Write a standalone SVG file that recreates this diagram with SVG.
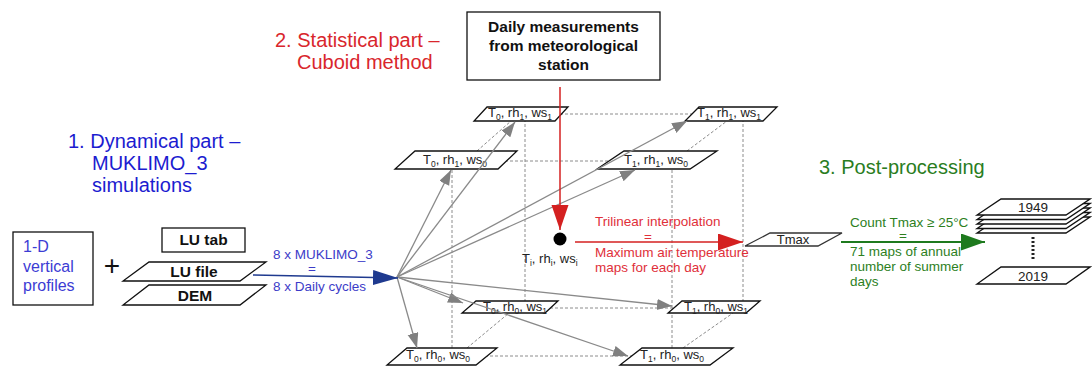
<svg xmlns="http://www.w3.org/2000/svg" width="1092" height="367" viewBox="0 0 1092 367">
<style>
text{font-family:"Liberation Sans",Arial,sans-serif}
.plate{fill:#fff;stroke:#111;stroke-width:1.3}
.box{fill:#fff;stroke:#111;stroke-width:1.3}
.pt{font-size:13px;fill:#222;text-anchor:middle}
.sb{font-size:8.5px}
.bold{font-weight:bold;fill:#111;text-anchor:middle}
.dash{stroke:#8c8c8c;stroke-width:1;stroke-dasharray:3 2;fill:none}
.garr{stroke:#8a8a8a;stroke-width:1.3;fill:none;marker-end:url(#mg)}
.lbl{font-size:13.5px}
</style>
<defs>
<marker id="mg" markerUnits="userSpaceOnUse" markerWidth="16" markerHeight="12" refX="15" refY="5.5" orient="auto"><path d="M0,0 L15,5.5 L0,11 z" fill="#808080"/></marker>
<marker id="mb" markerUnits="userSpaceOnUse" markerWidth="26" markerHeight="16" refX="25" refY="7.5" orient="auto"><path d="M0,0 L25,7.5 L0,15 z" fill="#1f3a8f"/></marker>
<marker id="mr" markerUnits="userSpaceOnUse" markerWidth="26" markerHeight="18" refX="25" refY="8.5" orient="auto"><path d="M0,0 L25,8.5 L0,17 z" fill="#d42020"/></marker>
<marker id="mgr" markerUnits="userSpaceOnUse" markerWidth="25" markerHeight="18" refX="24" refY="8.5" orient="auto"><path d="M0,0 L24,8.5 L0,17 z" fill="#1e7a1e"/></marker>
</defs>

<g id="titles">
<text x="68" y="148" font-size="20" fill="#1c1cd0">1. Dynamical part –</text>
<text x="92" y="170" font-size="20" fill="#1c1cd0">MUKLIMO_3</text>
<text x="92" y="192" font-size="20" fill="#1c1cd0">simulations</text>
<text x="275" y="47" font-size="20" fill="#d9262c">2. Statistical part –</text>
<text x="297" y="69" font-size="20" fill="#d9262c">Cuboid method</text>
<text x="819" y="174" font-size="20" fill="#2a7d1e">3. Post-processing</text>
</g>

<g id="connectors">
<g id="cube-edges">
<line class="dash" x1="452" y1="160" x2="452" y2="356"/>
<line class="dash" x1="525" y1="114" x2="525" y2="307"/>
<line class="dash" x1="672" y1="160" x2="672" y2="356"/>
<line class="dash" x1="743" y1="114" x2="743" y2="307"/>
<line class="dash" x1="530" y1="114" x2="730" y2="114"/>
<line class="dash" x1="460" y1="161" x2="660" y2="161"/>
<line class="dash" x1="520" y1="308" x2="710" y2="308"/>
<line class="dash" x1="445" y1="356" x2="670" y2="356"/>
<line class="dash" x1="477" y1="151" x2="511" y2="121"/>
<line class="dash" x1="687" y1="151" x2="727" y2="121"/>
<line class="dash" x1="467" y1="348" x2="509" y2="313"/>
<line class="dash" x1="683" y1="348" x2="733" y2="313"/>
</g>
</g>

<g id="node-left-profiles">
<rect class="box" x="13" y="232" width="80" height="73"/>
<text x="23" y="252" font-size="16" fill="#3c3cd4">1-D</text>
<text x="23" y="272" font-size="16" fill="#3c3cd4">vertical</text>
<text x="23" y="291" font-size="16" fill="#3c3cd4">profiles</text>
</g>
<g id="plus"><text x="112" y="275" font-size="28" text-anchor="middle" fill="#111">+</text></g>
<g id="node-lutab">
<rect class="box" x="162" y="228" width="83" height="24"/>
<text class="bold" x="203.5" y="245" font-size="15.5">LU tab</text>
</g>
<g id="node-lufile">
<polygon class="plate" points="123,281 240,281 266,262 149,262"/>
<text class="bold" x="194" y="277" font-size="15.5">LU file</text>
</g>
<g id="node-dem">
<polygon class="plate" points="123,305 240,305 266,285 149,285"/>
<text class="bold" x="195" y="301" font-size="15.5">DEM</text>
</g>

<g id="node-station">
<rect class="box" x="467" y="12" width="193" height="68"/>
<text class="bold" x="563.5" y="32" font-size="15.5">Daily measurements</text>
<text class="bold" x="563.5" y="51" font-size="15.5">from meteorological</text>
<text class="bold" x="563.5" y="70" font-size="15.5">station</text>
</g>

<g id="node-T0rh1ws1">
<polygon class="plate" points="474,121 555,121 568,107 487,107"/>
<text class="pt" x="520" y="117">T<tspan class="sb" dy="3">0</tspan><tspan dy="-3">, rh</tspan><tspan class="sb" dy="3">1</tspan><tspan dy="-3">, ws</tspan><tspan class="sb" dy="3">1</tspan></text>
</g>
<g id="node-T1rh1ws1">
<polygon class="plate" points="685,121 763,121 777,107 699,107"/>
<text class="pt" x="729" y="117">T<tspan class="sb" dy="3">1</tspan><tspan dy="-3">, rh</tspan><tspan class="sb" dy="3">1</tspan><tspan dy="-3">, ws</tspan><tspan class="sb" dy="3">1</tspan></text>
</g>
<g id="node-T0rh1ws0">
<polygon class="plate" points="395,169 498,169 517,151 415,151"/>
<text class="pt" x="455" y="164">T<tspan class="sb" dy="3">0</tspan><tspan dy="-3">, rh</tspan><tspan class="sb" dy="3">1</tspan><tspan dy="-3">, ws</tspan><tspan class="sb" dy="3">0</tspan></text>
</g>
<g id="node-T1rh1ws0">
<polygon class="plate" points="597,169 690,169 717,151 624,151"/>
<text class="pt" x="656" y="164">T<tspan class="sb" dy="3">1</tspan><tspan dy="-3">, rh</tspan><tspan class="sb" dy="3">1</tspan><tspan dy="-3">, ws</tspan><tspan class="sb" dy="3">0</tspan></text>
</g>
<g id="node-T0rh0ws1">
<polygon class="plate" points="462,313 545,313 558,301 476,301"/>
<text class="pt" x="515" y="311">T<tspan class="sb" dy="3">0</tspan><tspan dy="-3">, rh</tspan><tspan class="sb" dy="3">0</tspan><tspan dy="-3">, ws</tspan><tspan class="sb" dy="3">1</tspan></text>
</g>
<g id="node-T1rh0ws1">
<polygon class="plate" points="668,313 746,313 760,301 682,301"/>
<text class="pt" x="716" y="311">T<tspan class="sb" dy="3">1</tspan><tspan dy="-3">, rh</tspan><tspan class="sb" dy="3">0</tspan><tspan dy="-3">, ws</tspan><tspan class="sb" dy="3">1</tspan></text>
</g>
<g id="node-T0rh0ws0">
<polygon class="plate" points="387,365 476,365 497,348 407,348"/>
<text class="pt" x="438" y="359">T<tspan class="sb" dy="3">0</tspan><tspan dy="-3">, rh</tspan><tspan class="sb" dy="3">0</tspan><tspan dy="-3">, ws</tspan><tspan class="sb" dy="3">0</tspan></text>
</g>
<g id="node-T1rh0ws0">
<polygon class="plate" points="620,365 710,365 733,348 642,348"/>
<text class="pt" x="672" y="359">T<tspan class="sb" dy="3">1</tspan><tspan dy="-3">, rh</tspan><tspan class="sb" dy="3">0</tspan><tspan dy="-3">, ws</tspan><tspan class="sb" dy="3">0</tspan></text>
</g>

<g id="connectors-arrows">
<line class="garr" x1="397" y1="277" x2="451" y2="170"/>
<line class="garr" x1="397" y1="277" x2="515" y2="122"/>
<line class="garr" x1="397" y1="277" x2="687" y2="121"/>
<line class="garr" x1="397" y1="277" x2="635" y2="170"/>
<line class="garr" x1="397" y1="277" x2="463" y2="303"/>
<line class="garr" x1="397" y1="277" x2="672" y2="306"/>
<line class="garr" x1="397" y1="277" x2="417" y2="348"/>
<line class="garr" x1="397" y1="277" x2="628" y2="356"/>
<line x1="253" y1="275" x2="398" y2="278" stroke="#1f3a8f" stroke-width="1.5" marker-end="url(#mb)"/>
<line x1="560" y1="87" x2="560" y2="230" stroke="#d42020" stroke-width="1.5" marker-end="url(#mr)"/>
<line x1="575" y1="242" x2="743" y2="242" stroke="#d42020" stroke-width="1.5" marker-end="url(#mr)"/>
<line x1="841" y1="242" x2="985" y2="242" stroke="#1e7a1e" stroke-width="1.8" marker-end="url(#mgr)"/>
<text class="lbl" x="273" y="259" fill="#3c3cc8">8 x MUKLIMO_3</text>
<text class="lbl" x="312" y="273" fill="#3c3cc8" text-anchor="middle">=</text>
<text class="lbl" x="273" y="291" fill="#3c3cc8">8 x Daily cycles</text>
<text class="lbl" x="595" y="226" fill="#e0303a">Trilinear interpolation</text>
<text class="lbl" x="648" y="241" fill="#e0303a" text-anchor="middle">=</text>
<text class="lbl" x="595" y="257" fill="#e0303a">Maximum air temperature</text>
<text class="lbl" x="595" y="272" fill="#e0303a">maps for each day</text>
<text class="lbl" x="850" y="227" fill="#2d7f1e">Count Tmax ≥ 25°C</text>
<text class="lbl" x="903" y="240" fill="#2d7f1e" text-anchor="middle">=</text>
<text class="lbl" x="850" y="256" fill="#2d7f1e">71 maps of annual</text>
<text class="lbl" x="850" y="271" fill="#2d7f1e">number of summer</text>
<text class="lbl" x="850" y="286" fill="#2d7f1e">days</text>
</g>

<g id="node-point">
<circle cx="560" cy="239" r="6.5" fill="#000"/>
<text x="522" y="263" font-size="13" fill="#222">T<tspan class="sb" dy="3">i</tspan><tspan dy="-3">, rh</tspan><tspan class="sb" dy="3">i</tspan><tspan dy="-3">, ws</tspan><tspan class="sb" dy="3">i</tspan></text>
</g>

<g id="node-tmax">
<polygon points="745,246 818,246 842,233 770,233" fill="#fff" stroke="#333" stroke-width="1.3"/>
<text x="793" y="244" font-size="13" fill="#222" text-anchor="middle">Tmax</text>
</g>

<g id="node-1949">
<polygon class="plate" points="977,233 1066,233 1090,217 1001,217"/>
<polygon class="plate" points="977,228.5 1066,228.5 1090,212.5 1001,212.5"/>
<polygon class="plate" points="977,224 1066,224 1090,208 1001,208"/>
<polygon class="plate" points="977,219.5 1066,219.5 1090,203.5 1001,203.5"/>
<polygon class="plate" points="977,215 1066,215 1090,199 1001,199"/>
<text x="1033" y="212" font-size="13.5" fill="#222" text-anchor="middle">1949</text>
</g>
<g id="ellipsis">
<line x1="1033" y1="237" x2="1033" y2="259" stroke="#222" stroke-width="3" stroke-dasharray="2 2"/>
</g>
<g id="node-2019">
<polygon class="plate" points="977,284 1066,284 1090,267 1001,267"/>
<text x="1033" y="281" font-size="13.5" fill="#222" text-anchor="middle">2019</text>
</g>
</svg>
